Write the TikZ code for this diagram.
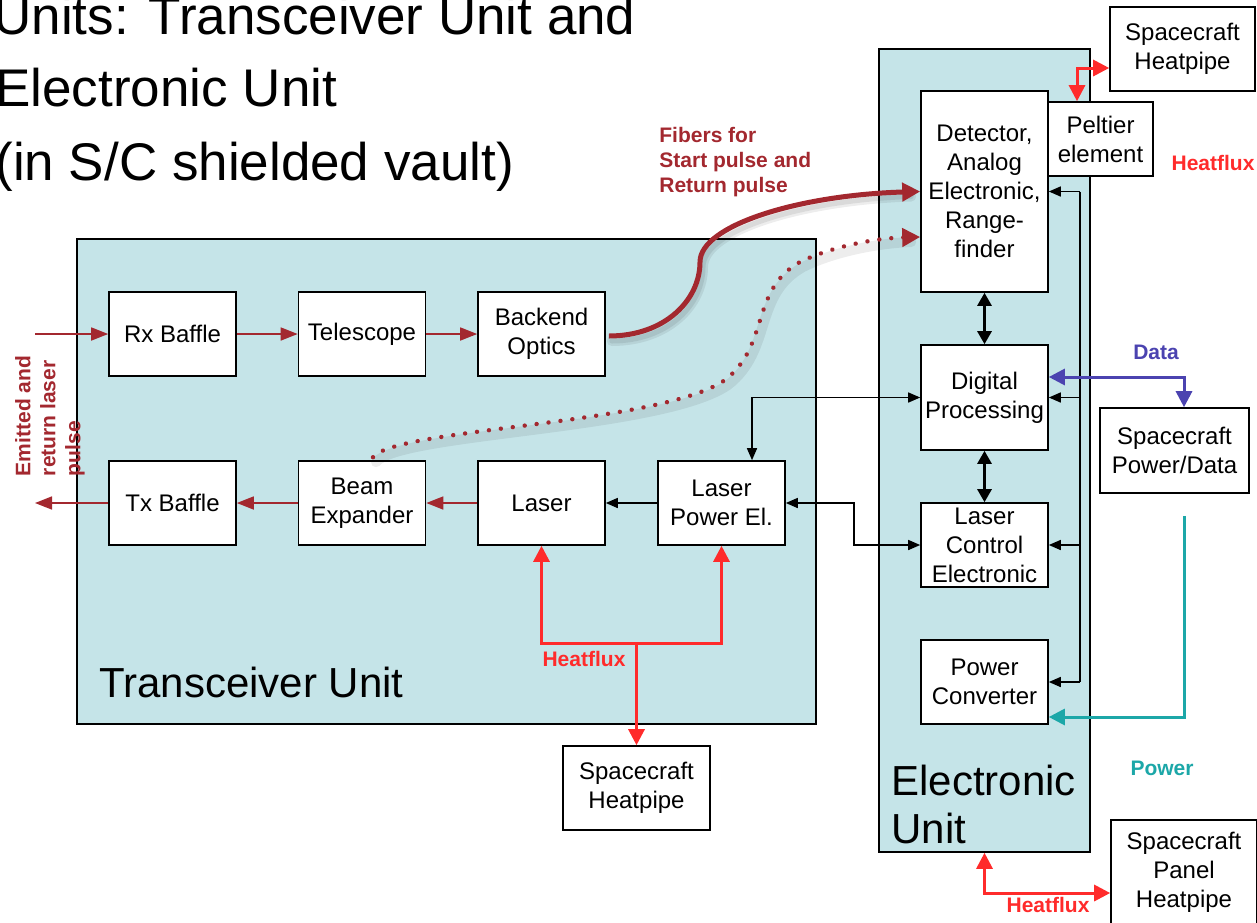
\documentclass[tikz,border=0pt]{standalone}
\usepackage{fontspec}
\setmainfont{Liberation Sans}
\usetikzlibrary{arrows.meta,calc}
\definecolor{tublue}{HTML}{C5E4E8}
\definecolor{fibred}{HTML}{A3282F}
\definecolor{heatred}{HTML}{FF2B2B}
\definecolor{datablue}{HTML}{4B43B0}
\definecolor{powerteal}{HTML}{1CA7A8}
\begin{document}
\begin{tikzpicture}[x=0.5pt,y=-0.5pt,
  box/.style={draw, fill=white, line width=0.8pt, align=center,
    font=\fontsize{12}{14.5}\selectfont, inner sep=0pt,
    minimum width=63.5pt, minimum height=42pt},
  unit/.style={draw, fill=tublue, line width=0.8pt, inner sep=0pt},
  lbl/.style={font=\bfseries\fontsize{10.5}{12.5}\selectfont, inner sep=0pt},
  titletxt/.style={font=\fontsize{26.5}{30}\selectfont, inner sep=0pt},
  unittxt/.style={font=\fontsize{21}{24}\selectfont, inner sep=0pt},
  redarr/.style={fibred, line width=0.8pt, -{Triangle[length=8.5pt,width=6.5pt]}},
  blk/.style={black, line width=0.75pt, -{Triangle[length=6pt,width=5pt]}},
  blkline/.style={black, line width=0.75pt},
  blkboth/.style={black, line width=0.75pt, {Triangle[length=6pt,width=5pt]}-{Triangle[length=6pt,width=5pt]}},
  thickboth/.style={black, line width=1.4pt, {Triangle[length=6.5pt,width=7pt]}-{Triangle[length=6.5pt,width=7pt]}},
  heat/.style={heatred, line width=1.5pt, -{Triangle[length=8pt,width=8pt]}},
  heatboth/.style={heatred, line width=1.5pt, {Triangle[length=8pt,width=8pt]}-{Triangle[length=8pt,width=8pt]}},
  databoth/.style={datablue, line width=1.5pt, {Triangle[length=8pt,width=8pt]}-{Triangle[length=8pt,width=8pt]}},
  power/.style={powerteal, line width=1.5pt, -{Triangle[length=8pt,width=8pt]}},
  fiber/.style={fibred, line width=2.5pt, -{Triangle[length=9pt,width=9pt]}},
  fiberdot/.style={fibred, line width=2.2pt, line cap=round, dash pattern=on 0.01pt off 6pt, -{Triangle[length=9pt,width=9pt]}},
  fshadow/.style={black, opacity=0.07, line width=5pt, line cap=round, transform canvas={shift={(1.5pt,-2.5pt)}}},
  fshadowin/.style={black, opacity=0.08, line width=2.5pt, line cap=round, transform canvas={shift={(1.5pt,-2.5pt)}}}
]
\useasboundingbox (0,0) rectangle (1257,922);

% title
\node[titletxt, anchor=base east] (t1) at (636,34) {Units: Transceiver Unit and};
\node[titletxt, anchor=base west] (t2) at (-5,106) {Electronic Unit};
\node[titletxt, anchor=base west] (t3) at (-5,180) {(in S/C shielded vault)};

% units
\node[unit, minimum width=369.5pt, minimum height=242.5pt] (TU) at (446.5,481.5) {};
\node[unit, minimum width=105.5pt, minimum height=401.5pt] (EU) at (984.5,450.5) {};
\node[unittxt, anchor=base west] (tul) at (99,697) {Transceiver Unit};
\node[unittxt, anchor=base west] (eul1) at (891,795) {Electronic};
\node[unittxt, anchor=base west] (eul2) at (891,843) {Unit};

% transceiver boxes
\node[box] (Rx)  at (172.5,334) {Rx Baffle};
\node[box] (Tel) at (362,334) {Telescope};
\node[box] (BO)  at (541.5,334) {Backend\\Optics};
\node[box] (Tx)  at (172.5,503) {Tx Baffle};
\node[box] (BE)  at (362,503) {Beam\\Expander};
\node[box] (Las) at (541.5,503) {Laser};
\node[box] (LPE) at (721.5,503) {Laser\\Power El.};

% electronic boxes
\node[box, minimum height=100.5pt] (Det) at (984.5,191.5) {Detector,\\Analog\\Electronic,\\Range-\\finder};
\node[box, minimum width=52.5pt, minimum height=37pt] (Pel) at (1100.5,139) {Peltier\\element};
\node[box, minimum height=52.5pt] (DP) at (984.5,397.5) {Digital\\Processing};
\node[box] (LCE) at (984.5,545) {Laser\\Control\\Electronic};
\node[box] (PC) at (984.5,682) {Power\\Converter};

% spacecraft boxes
\node[box, minimum width=72.5pt] (HPt) at (1182.5,49) {Spacecraft\\Heatpipe};
\node[box, minimum width=74.5pt, minimum height=42.5pt] (SPD) at (1174.5,450.5) {Spacecraft\\Power/Data};
\node[box, minimum width=73.5pt] (HPb) at (636.5,788) {Spacecraft\\Heatpipe};
\node[box, minimum width=73pt, minimum height=52pt] (PHP) at (1184,872) {Spacecraft\\Panel\\Heatpipe};

% optical path arrows
\coordinate (inP) at (35,334);
\coordinate (outP) at (35,503);
\draw[redarr] (inP) -- (Rx.west);
\draw[redarr] (Rx) -- (Tel);
\draw[redarr] (Tel) -- (BO);
\draw[redarr] (Tx.west) -- (outP);
\draw[redarr] (BE) -- (Tx);
\draw[redarr] (Las) -- (BE);
\draw[blk] (LPE) -- (Las);

\node[lbl, text=fibred, rotate=90, align=left] (emit) at (50,416) {Emitted and\\return laser\\pulse};

% electronics connections
\draw[blkboth] (LPE.east) -- ++(68,0) |- (LCE.west);
\draw[blkboth] (DP.west) -| ($(LPE.north)+(30.5,0)$);
\draw[thickboth] (Det) -- (DP);
\draw[thickboth] (DP) -- (LCE);

\coordinate (b1) at ($(Det.east)+(31,0)$);
\coordinate (b4) at ($(PC.east)+(31,0)$);
\draw[blkline] (b1) -- (b4);
\draw[blk] (b1) -- (Det.east);
\draw[blk] (b1 |- DP.east) -- (DP.east);
\draw[blk] (b1 |- LCE.east) -- (LCE.east);
\draw[blk] (b4) -- (PC.east);

% data and power
\draw[databoth] ($(DP.east)+(0,-20.5)$) -| ($(SPD.north)+(9.5,0)$);
\node[lbl, text=datablue] (datal) at (1156,352) {Data};
\draw[power] ($(SPD.south)+(9.5,22)$) |- ($(PC.east)+(0,35)$);
\node[lbl, text=powerteal] (powl) at (1162,768) {Power};

% heat flux
\draw[heatboth] ($(Pel.north)+(-23.5,0)$) |- ($(HPt.west)+(0,19)$);
\node[lbl, text=heatred] (hf1) at (1213,163) {Heatflux};
\draw[heatboth] (EU.south) |- ($(PHP.west)+(0,21)$);
\node[lbl, text=heatred] (hf3) at (1048,905) {Heatflux};
\coordinate (hfm) at ($(Las.south)+(0,98)$);
\draw[heatboth] (Las.south) -- (hfm) -| (LPE.south);
\draw[heat] (hfm -| HPb.north) -- (HPb.north);
\node[lbl, text=heatred] (hf2) at (584,659) {Heatflux};

% fibers
\coordinate (fs) at ($(BO.east)+(3,2)$);
\coordinate (ds) at ($(BE.north)+(11,-3)$);
\coordinate (de) at ($(Det.west)+(0,45.5)$);
\draw[fshadow] (fs) .. controls (665,336) and (700,300) .. (700,262)
  .. controls (700,225) and (800,195) .. ($(Det.west)+(-12,0)$);
\draw[fshadowin] (fs) .. controls (665,336) and (700,300) .. (700,262)
  .. controls (700,225) and (800,195) .. ($(Det.west)+(-12,0)$);
\draw[fiber] (fs) .. controls (665,336) and (700,300) .. (700,262)
  .. controls (700,225) and (800,195) .. (Det.west);
\draw[fshadow] (ds) .. controls (395,428) and (660,425) .. (725,380)
  .. controls (770,345) and (750,290) .. (800,262)
  .. controls (835,245) and (880,238) .. ($(de)+(-12,0)$);
\draw[fiberdot] (ds) .. controls (395,428) and (660,425) .. (725,380)
  .. controls (770,345) and (750,290) .. (800,262)
  .. controls (835,245) and (880,238) .. (de);
\node[lbl, text=fibred, align=left, anchor=west] (fibl) at (659,162) {Fibers for\\Start pulse and\\Return pulse};
\end{tikzpicture}
\end{document}
